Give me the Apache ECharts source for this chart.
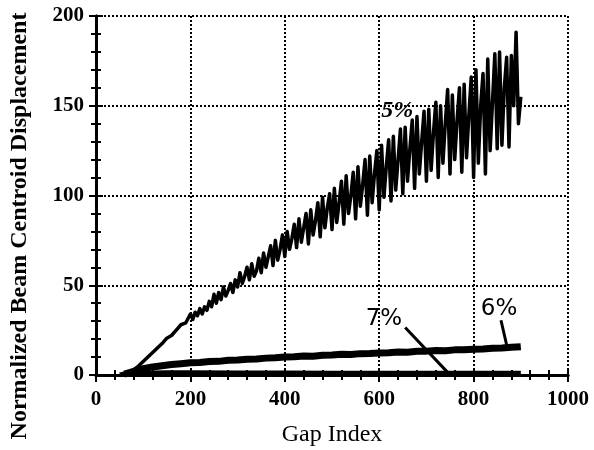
<!DOCTYPE html>
<html>
<head>
<meta charset="utf-8">
<script src="https://cdn.jsdelivr.net/npm/echarts@6/dist/echarts.min.js"></script>
<style>
	body{margin:0;background:#fff;}
	#container1{width:594px;height:450px;}
</style>
</head>
<body>
<div id="container1"></div>
<script>
// gap index (x) and displacement values
var gap5 = [50,60,70,80,90,100,110,120,130,140,150,160,170,180,190,
	200,205,210,215,220,225,230,235,240,245,250,255,260,265,270,275,280,285,290,295,
	300,305,310,315,320,325,330,335,340,345,350,355,360,365,370,375,380,385,390,395,
	400,405,410,415,420,425,430,435,440,445,450,455,460,465,470,475,480,485,490,495,
	500,505,510,515,520,525,530,535,540,545,550,555,560,565,570,575,580,585,590,595,
	600,605,610,615,620,625,630,635,640,645,650,655,660,665,670,675,680,685,690,695,
	700,705,710,715,720,725,730,735,740,745,750,755,760,765,770,775,780,785,790,795,
	800,805,810,815,820,825,830,835,840,845,850,855,860,865,870,875,880,885,890,895,900];
var val5 = [0.5,1,1.5,3,5,7.5,10,12.5,15,17.5,20.5,22,25,28,29,
	34,31,35,33,37,34,38,36,41,38,45,40,46,42,49,44,47,51,46,53,
	49,57,51,55,60,53,62,55,58,65,57,68,60,66,72,61,75,64,70,78,
	66,80,70,76,84,71,87,74,82,90,73,92,78,86,96,77,99,82,93,101,
	81,104,85,96,108,84,111,90,100,113,87,116,94,106,120,89,122,96,112,125,
	92,128,99,116,131,97,133,103,120,137,101,138,108,126,142,104,144,112,130,147,
	108,148,114,135,152,110,150,118,140,159,112,156,120,142,160,113,162,121,145,166,
	110,170,118,150,168,112,176,125,152,179,126,180,128,160,177,127,178,150,191,140,155];

var gap6 = [60,80,100,120,140,160,180,200,220,240,260,280,300,320,340,360,380,
	400,420,440,460,480,500,520,540,560,580,600,620,640,660,680,700,720,740,760,780,
	800,820,840,860,880,900];
var val6 = [0.5,2,3.5,4.5,5.2,5.8,6.3,6.8,7.0,7.5,7.6,8.2,8.3,8.8,8.9,9.4,9.6,
	10.0,10.2,10.6,10.5,11.0,11.2,11.5,11.4,11.9,12.0,12.3,12.4,12.8,12.7,13.2,13.3,13.6,13.5,14.0,14.1,
	14.4,14.5,14.9,15.0,15.4,15.8];

var gap7 = [60,80,100,150,200,300,400,500,600,700,800,900];
var val7 = [0.4,1.0,1.3,1.5,1.5,1.4,1.4,1.3,1.3,1.2,1.2,1.2];

var xTicks = [0,200,400,600,800,1000];
var yTicks = [0,50,100,150,200];

// curve labels and their leader lines (data coords)
var labelNames = ['5%','7%','6%'];
var labelPos = [[638,147],[610,31],[854,37]];
var leader7 = [[655,26.5],[746,1.2]];
var leader6 = [[858,30.5],[871,15.6]];

function pairs(xs,ys){
	var arr=[];
	for(var i=0;i<xs.length;++i){
		arr[i]=[xs[i],ys[i]];
	}
	return arr;
}

var myChart = echarts.init(document.getElementById('container1'));

function axisBase(showLabel,min,max,interval){
	return {
		type:'value',
		min:min,
		max:max,
		interval:interval,
		axisLine:{show:true,lineStyle:{color:'#000',width:3}},
		axisTick:{show:true,inside:true,length:7,lineStyle:{color:'#000',width:2}},
		minorTick:{show:true,splitNumber:5,length:5,lineStyle:{color:'#000',width:2}},
		axisLabel:showLabel?{
			show:true,margin:12,color:'#000',fontFamily:'Liberation Serif',fontSize:21,fontWeight:'bold',
			formatter:function(v){return ''+v;}
		}:{show:false},
		splitLine:{show:false}
	};
}

var xBottom = axisBase(true,xTicks[0],xTicks[xTicks.length-1],200);
xBottom.position='bottom';
xBottom.name='Gap Index';
xBottom.nameLocation='middle';
xBottom.nameGap=48;
xBottom.nameTextStyle={color:'#000',fontFamily:'Liberation Serif',fontSize:24};
xBottom.splitLine={show:true,lineStyle:{color:'#000',type:'dotted',width:2}};
xBottom.axisLabel.margin=14;

var xTop = axisBase(false,xTicks[0],xTicks[xTicks.length-1],200);
xTop.position='top';

var yLeft = axisBase(true,yTicks[0],yTicks[yTicks.length-1],50);
yLeft.position='left';
yLeft.splitLine={show:true,lineStyle:{color:'#000',type:'dotted',width:2}};

var yRight = axisBase(false,yTicks[0],yTicks[yTicks.length-1],50);
yRight.position='right';

var option = {
	backgroundColor:'#fff',
	animation:false,
	grid:{left:96,top:16,width:472,height:359,containLabel:false,outerBoundsMode:'none'},
	xAxis:[xBottom,xTop],
	yAxis:[yLeft,yRight],
	// y title sits lower than the plot centre in the original, so it is placed by hand
	graphic:[{
		type:'text',
		x:20,
		y:226,
		rotation:Math.PI/2,
		style:{
			text:'Normalized Beam Centroid Displacement',
			fill:'#000',
			fontFamily:'Liberation Serif',
			fontSize:24,
			fontWeight:'bold',
			align:'center',
			verticalAlign:'middle'
		}
	}],
	series:[
		{
			name:'5%',
			type:'line',
			showSymbol:false,
			data:pairs(gap5,val5),
			lineStyle:{color:'#000',width:3.5,join:'round'},
			z:5,
			markPoint:{
				symbol:'circle',
				symbolSize:0,
				label:{show:true,color:'#000',fontFamily:'Liberation Serif',fontStyle:'italic',fontWeight:'bold',fontSize:24},
				data:[{coord:labelPos[0],value:labelNames[0],label:{formatter:labelNames[0]}}]
			}
		},
		{
			name:'6%',
			type:'line',
			showSymbol:false,
			data:pairs(gap6,val6),
			lineStyle:{color:'#000',width:7},
			z:4,
			markPoint:{
				symbol:'circle',
				symbolSize:0,
				label:{show:true,color:'#000',fontFamily:'DejaVu Sans',fontSize:23},
				data:[
					{coord:labelPos[1],value:labelNames[1],label:{formatter:labelNames[1]}},
					{coord:labelPos[2],value:labelNames[2],label:{formatter:labelNames[2]}}
				]
			},
			markLine:{
				symbol:'none',
				silent:true,
				label:{show:false},
				lineStyle:{color:'#000',width:3,type:'solid'},
				data:[
					[{coord:leader7[0]},{coord:leader7[1]}],
					[{coord:leader6[0]},{coord:leader6[1]}]
				]
			}
		},
		{
			name:'7%',
			type:'line',
			showSymbol:false,
			data:pairs(gap7,val7),
			lineStyle:{color:'#000',width:4},
			z:3
		}
	]
};

myChart.setOption(option);
</script>
</body>
</html>
